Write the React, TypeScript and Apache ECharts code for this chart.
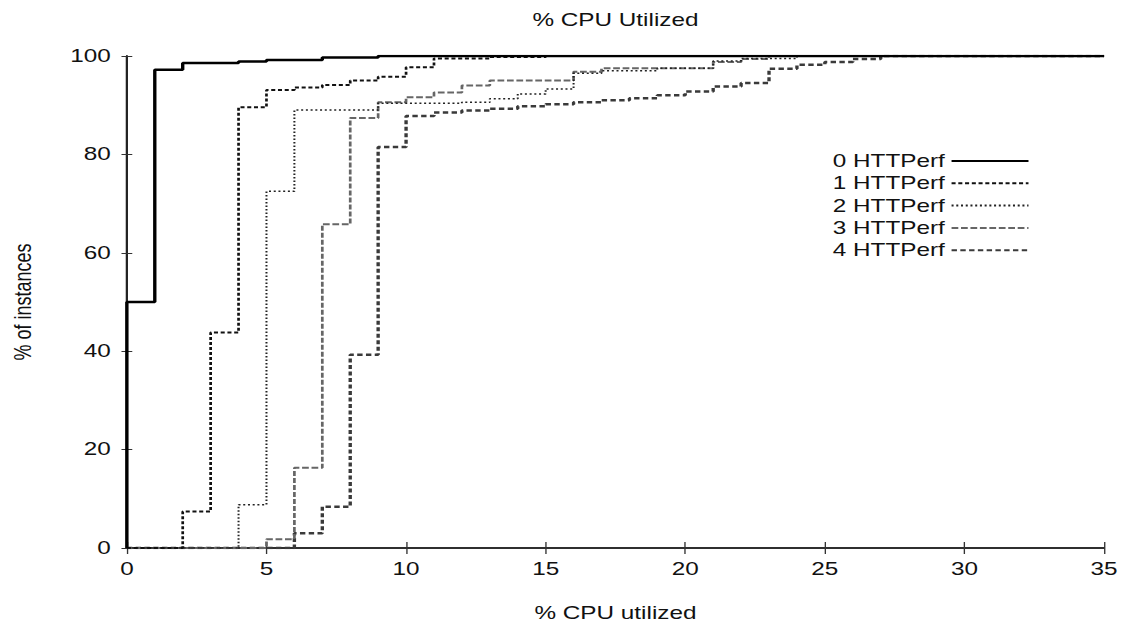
import React, { useEffect, useRef } from "react";
import * as echarts from "echarts";

// ---- data ----
const seriesNames = ["0 HTTPerf", "1 HTTPerf", "2 HTTPerf", "3 HTTPerf", "4 HTTPerf"];
const xTickValues = [0, 5, 10, 15, 20, 25, 30, 35];
const yTickValues = [0, 20, 40, 60, 80, 100];

const cpu0 = [0, 0, 1, 2, 4, 5, 7, 9, 35];
const pct0 = [0, 50, 97.2, 98.6, 98.9, 99.2, 99.7, 100, 100];

const cpu1 = [0, 2, 3, 4, 5, 6, 7, 8, 9, 10, 11, 13, 15, 35];
const pct1 = [0, 7.4, 43.8, 89.6, 93.1, 93.6, 94.1, 95.0, 95.8, 97.7, 99.5, 99.8, 100, 100];

const cpu2 = [0, 4, 5, 6, 9, 12, 13, 14, 15, 16, 17, 19, 21, 22, 24, 35];
const pct2 = [0, 8.8, 72.5, 89.0, 90.4, 90.6, 91.3, 92.3, 93.3, 96.5, 97.0, 97.5, 99.0, 99.5, 100, 100];

const cpu3 = [0, 5, 6, 7, 8, 9, 10, 11, 12, 13, 16, 17, 21, 22, 23, 35];
const pct3 = [0, 1.8, 16.3, 65.8, 87.4, 90.6, 91.6, 92.6, 94.0, 95.0, 96.8, 97.5, 98.8, 99.4, 100, 100];

const cpu4 = [0, 6, 7, 8, 9, 10, 11, 12, 13, 14, 15, 16, 17, 18, 19, 20, 21, 22, 23, 24, 25, 26, 27, 35];
const pct4 = [0, 3.0, 8.4, 39.3, 81.5, 87.8, 88.5, 88.9, 89.3, 89.8, 90.2, 90.6, 91.0, 91.4, 92.0, 92.8, 93.8, 94.5, 97.4, 98.2, 98.8, 99.4, 100, 100];

const cpuLists = [cpu0, cpu1, cpu2, cpu3, cpu4];
const pctLists = [pct0, pct1, pct2, pct3, pct4];

// ---- styles ----
const FULL_W = 1127;
const BASE_W = 835; // the reference is a horizontally stretched gnuplot image
const H = 627;
const FONT = "'Liberation Sans', Arial, Helvetica, sans-serif";

const lineStyles: any[] = [
  { color: "#000000", width: 2.5, type: "solid" },
  { color: "#111111", width: 2, type: [3, 2] },
  { color: "#222222", width: 1.5, type: [1.5, 2] },
  { color: "#666666", width: 2, type: [5, 2] },
  { color: "#3a3a3a", width: 2.5, type: [4, 2.5] },
];

const GRID = { left: 94, right: 17, top: 56, bottom: 79 };

export default function App() {
  const ref = useRef<HTMLDivElement>(null);

  useEffect(() => {
    document.body.style.margin = "0";
    const chart = echarts.init(ref.current!, null, { renderer: "svg", width: BASE_W, height: H });

    const axisLine = { show: true, lineStyle: { color: "#222", width: 1.5 } };
    const plotCenterX = GRID.left + (BASE_W - GRID.left - GRID.right) / 2;

    const option: any = {
      animation: false,
      backgroundColor: "#ffffff",
      textStyle: { fontFamily: FONT },
      graphic: [
        {
          type: "text",
          x: plotCenterX,
          y: 20,
          style: {
            text: "% CPU Utilized",
            fontSize: 18,
            fontFamily: FONT,
            fill: "#111",
            align: "center",
            verticalAlign: "middle",
          },
        },
      ],
      legend: {
        orient: "vertical",
        left: 612,
        top: 147,
        align: "right",
        itemWidth: 57,
        itemHeight: 12,
        itemGap: 4.3,
        data: seriesNames,
        itemStyle: { opacity: 0 },
        textStyle: { fontSize: 18, fontFamily: FONT, color: "#111", lineHeight: 18 },
      },
      grid: { ...GRID, containLabel: false },
      xAxis: [
        {
          type: "value",
          position: "bottom",
          min: 0,
          max: 35,
          interval: 5,
          name: "% CPU utilized",
          nameLocation: "middle",
          nameGap: 56,
          nameTextStyle: { fontSize: 18, fontFamily: FONT, color: "#111" },
          axisLine,
          axisTick: { show: true, inside: true, length: 6, lineStyle: { color: "#333", width: 1 } },
          axisLabel: {
            fontSize: 18,
            fontFamily: FONT,
            color: "#111",
            margin: 12,
            customValues: xTickValues,
          },
          splitLine: { show: false },
        },
        {
          type: "value",
          position: "top",
          min: 0,
          max: 35,
          interval: 5,
          axisLine,
          axisTick: { show: true, inside: true, length: 6, lineStyle: { color: "#333", width: 1 } },
          axisLabel: { show: false },
          splitLine: { show: false },
        },
      ],
      yAxis: [
        {
          type: "value",
          position: "left",
          min: 0,
          max: 100,
          interval: 20,
          name: "% of instances",
          nameLocation: "middle",
          nameGap: 68,
          nameRotate: 90,
          nameTextStyle: { fontSize: 18, fontFamily: FONT, color: "#111" },
          axisLine,
          axisTick: { show: true, inside: true, length: 4, lineStyle: { color: "#333", width: 1 } },
          axisLabel: {
            fontSize: 18,
            fontFamily: FONT,
            color: "#111",
            margin: 12,
            customValues: yTickValues,
          },
          splitLine: { show: false },
        },
        {
          type: "value",
          position: "right",
          min: 0,
          max: 100,
          interval: 20,
          axisLine,
          axisTick: { show: true, inside: true, length: 4, lineStyle: { color: "#333", width: 1 } },
          axisLabel: { show: false },
          splitLine: { show: false },
        },
      ],
      series: seriesNames.map((name, i) => ({
        name,
        type: "line",
        step: "end",
        symbol: "none",
        showSymbol: false,
        xAxisIndex: 0,
        yAxisIndex: 0,
        z: 10 - i,
        lineStyle: lineStyles[i],
        itemStyle: { color: lineStyles[i].color },
        data: cpuLists[i].map((x, j) => [x, pctLists[i][j]]),
      })),
    };

    chart.setOption(option);
    return () => chart.dispose();
  }, []);

  return (
    <div
      style={{
        position: "absolute",
        left: 0,
        top: 0,
        width: FULL_W,
        height: H,
        overflow: "hidden",
        background: "#fff",
      }}
    >
      <div
        ref={ref}
        style={{
          width: BASE_W,
          height: H,
          transform: `scaleX(${FULL_W / BASE_W})`,
          transformOrigin: "0 0",
        }}
      />
    </div>
  );
}
